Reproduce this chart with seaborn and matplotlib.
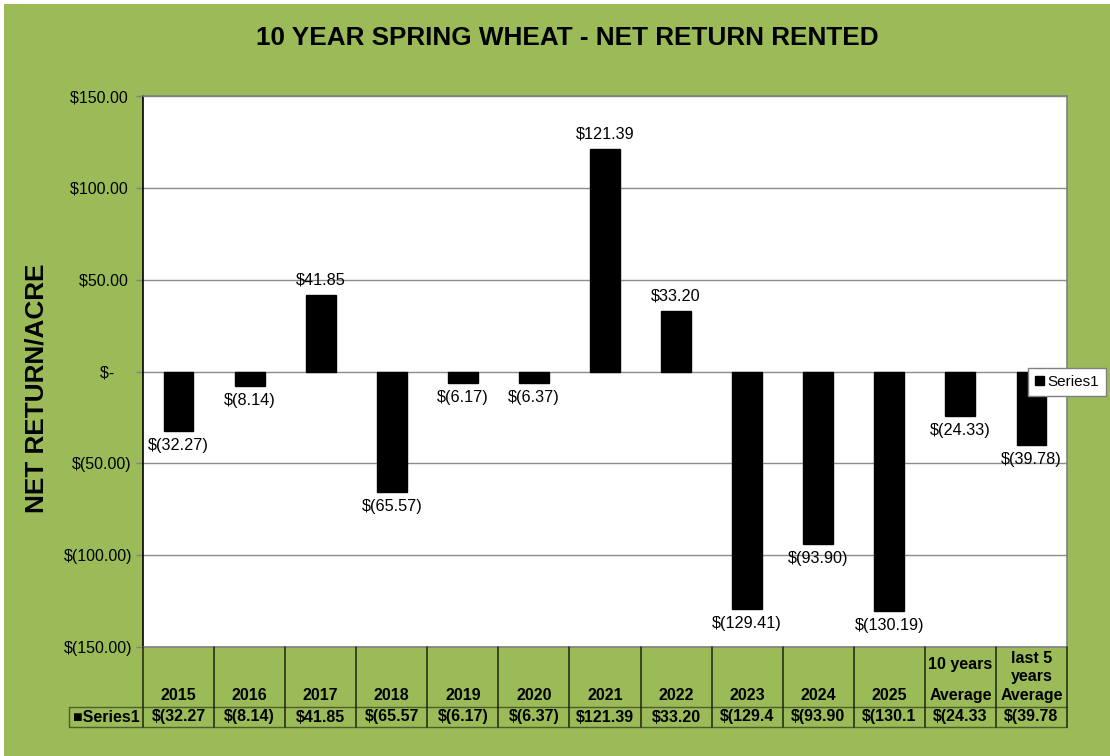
import matplotlib
matplotlib.use("Agg")
import matplotlib.pyplot as plt
import seaborn as sns
import pandas as pd
from matplotlib.patches import Patch, Rectangle
from matplotlib.ticker import FuncFormatter
from matplotlib.transforms import blended_transform_factory

# ---------------- data ----------------
categories = ["2015", "2016", "2017", "2018", "2019", "2020", "2021", "2022",
              "2023", "2024", "2025", "10 years Average", "last 5 years Average"]
values = [-32.27, -8.14, 41.85, -65.57, -6.17, -6.37, 121.39, 33.20,
          -129.41, -93.90, -130.19, -24.33, -39.78]
header_labels = ["2015", "2016", "2017", "2018", "2019", "2020", "2021", "2022",
                 "2023", "2024", "2025", "10 years\n\nAverage", "last 5\nyears\nAverage"]
table_labels = ["$(32.27", "$(8.14)", "$41.85", "$(65.57", "$(6.17)", "$(6.37)",
                "$121.39", "$33.20", "$(129.4", "$(93.90", "$(130.1", "$(24.33", "$(39.78"]
series_name = "Series1"
title = "10 YEAR SPRING WHEAT - NET RETURN RENTED"
ylabel = "NET RETURN/ACRE"
y_ticks = [-150, -100, -50, 0, 50, 100, 150]

# ---------------- style ----------------
sns.set_style("white")
plt.rcParams["font.family"] = ["Liberation Sans", "DejaVu Sans"]
plt.rcParams["text.color"] = "black"
plt.rcParams["axes.labelcolor"] = "black"
plt.rcParams["xtick.color"] = "black"
plt.rcParams["ytick.color"] = "black"

GREEN = "#9BBB59"
W, H = 1110, 756

fig = plt.figure(figsize=(W / 100, H / 100), dpi=100)
fig.patch.set_facecolor("white")
fig.patches.append(Rectangle((4 / W, 0), 1 - 4 / W, 1 - 4 / H, transform=fig.transFigure,
                             facecolor=GREEN, edgecolor="none", zorder=-10))

ax = fig.add_axes([143 / W, (H - 647) / H, (1067 - 143) / W, (647 - 96) / H])
ax.set_facecolor("white")

df = pd.DataFrame({"category": categories, "value": values})
sns.barplot(data=df, x="category", y="value", order=categories, color="black",
            width=0.42, saturation=1, ax=ax, zorder=3, edgecolor="black")

ax.set_xlim(-0.5, len(categories) - 0.5)
ax.set_ylim(min(y_ticks), max(y_ticks))
ax.set_yticks(y_ticks)


def money_tick(v, pos=None):
    if abs(v) < 1e-9:
        return "$-    "
    if v > 0:
        return "${:,.2f} ".format(v)
    return "$({:,.2f})".format(abs(v))


def money_label(v):
    if v >= 0:
        return "${:,.2f}".format(v)
    return "$({:,.2f})".format(abs(v))


ax.yaxis.set_major_formatter(FuncFormatter(money_tick))
ax.tick_params(axis="y", labelsize=11.5, length=5, color="#808080", labelcolor="black",
               width=1, pad=3, left=True)
ax.tick_params(axis="x", bottom=False, labelbottom=False)
ax.set_xlabel("")
ax.set_ylabel("")
ax.grid(axis="y", color="#8c8c8c", lw=1)
ax.grid(axis="x", visible=False)
ax.set_axisbelow(True)

ax.spines["left"].set_color("black")
ax.spines["left"].set_linewidth(1.2)
for s in ["top", "right", "bottom"]:
    ax.spines[s].set_color("#808080")
    ax.spines[s].set_linewidth(1.2)

# data labels
for i, v in enumerate(values):
    ax.annotate(money_label(v), (i, v), xytext=(0, 5 if v >= 0 else -5),
                textcoords="offset points", ha="center", color="black",
                va="bottom" if v >= 0 else "top", fontsize=11.7, zorder=5)

# title and y label
fig.text(567 / W, 1 - 38 / H, title, ha="center", va="center", color="black",
         fontsize=18.8, fontweight="bold")
fig.text(37 / W, 1 - 388 / H, ylabel, rotation=90, ha="center", va="center",
         color="black", fontsize=18.8, fontweight="bold")

# ---------------- data table ----------------
trans = blended_transform_factory(ax.transData, ax.transAxes)
ax_h = 647 - 96
px_per_cat = (1067 - 143) / len(categories)


def ya(p):
    return -(p - 647) / ax_h


def xd(p):
    return -0.5 + (p - 143) / px_per_cat


n = len(categories)
line_dark = "#1e2410"
line_olive = "#4f5f28"
for k in range(n + 1):
    ax.plot([k - 0.5, k - 0.5], [ya(647), ya(727)], color=line_dark, lw=1.1,
            transform=trans, clip_on=False, zorder=6)
ax.plot([xd(69), n - 0.5], [ya(707), ya(707)], color=line_olive, lw=1,
        transform=trans, clip_on=False)
ax.plot([xd(69), n - 0.5], [ya(727), ya(727)], color=line_olive, lw=1,
        transform=trans, clip_on=False)
ax.plot([xd(69), xd(69)], [ya(707), ya(727)], color=line_olive, lw=1,
        transform=trans, clip_on=False)

for i, lab in enumerate(header_labels):
    ax.text(i, ya(703), lab, ha="center", va="bottom", fontsize=11.5, color="black",
            fontweight="bold", transform=trans,
            linespacing=1.05 if lab.count("\n") == 2 and "\n\n" in lab else 1.3)
for i, lab in enumerate(table_labels):
    ax.text(i, ya(717), lab, ha="center", va="center", fontsize=11.5, color="black",
            fontweight="bold", transform=trans)
ax.text(xd(106), ya(717), "\u25A0" + series_name, ha="center", va="center",
        fontsize=11.5, fontweight="bold", transform=trans, color="black",
        family=["Liberation Sans", "DejaVu Sans"])

# legend
handle = Patch(facecolor="black", edgecolor="black")
leg = ax.legend(handles=[handle], labels=[series_name], loc="center left",
                bbox_to_anchor=(1028 / W, 1 - 382 / H), bbox_transform=fig.transFigure,
                frameon=True, fancybox=False, edgecolor="#808080", framealpha=1,
                fontsize=11, handlelength=0.6, handleheight=0.6, handletextpad=0.2,
                borderpad=0.45, borderaxespad=0, labelcolor="black")
leg.set_zorder(10)
leg.get_frame().set_linewidth(1)

fig.savefig("out.png", dpi=100, facecolor=fig.get_facecolor())
